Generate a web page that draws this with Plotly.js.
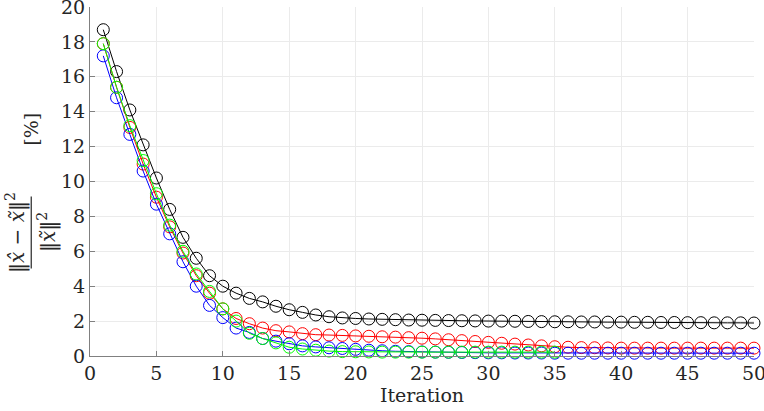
<!DOCTYPE html>
<html>
<head>
<meta charset="utf-8">
<script src="https://cdn.plot.ly/plotly-3.0.1.min.js"></script>
<style>
  body { margin: 0; background: #fff; }
  #graph { width: 764px; height: 411px; }
</style>
</head>
<body>
<div id="graph"></div>
<script>
// iteration numbers
var iters = []
for (var i = 1; i <= 50; i++) iters.push(i)
var itersGreen = iters.slice(0, 35)

var blackVals = [18.7, 16.3, 14.1, 12.1, 10.2, 8.4, 6.8, 5.6, 4.6, 4.0,
    3.6, 3.3, 3.1, 2.85, 2.65, 2.5, 2.35, 2.25, 2.18, 2.15,
    2.12, 2.1, 2.08, 2.06, 2.05, 2.04, 2.03, 2.02, 2.01, 2.0,
    2.0, 1.99, 1.98, 1.97, 1.96, 1.96, 1.95, 1.95, 1.94, 1.94,
    1.93, 1.93, 1.92, 1.92, 1.91, 1.91, 1.9, 1.9, 1.9, 1.89]

var redVals = [17.9, 15.4, 13.1, 11.0, 9.1, 7.4, 5.9, 4.6, 3.6, 2.7,
    2.15, 1.85, 1.6, 1.45, 1.38, 1.28, 1.22, 1.2, 1.18, 1.15,
    1.13, 1.1, 1.08, 1.05, 1.02, 0.98, 0.93, 0.88, 0.83, 0.78,
    0.73, 0.68, 0.63, 0.58, 0.53, 0.5, 0.48, 0.47, 0.46, 0.45,
    0.45, 0.45, 0.45, 0.45, 0.45, 0.45, 0.45, 0.45, 0.45, 0.45]

var blueVals = [17.2, 14.8, 12.7, 10.6, 8.7, 7.0, 5.4, 4.0, 2.9, 2.2,
    1.6, 1.35, 1.0, 0.85, 0.7, 0.58, 0.52, 0.47, 0.43, 0.38,
    0.33, 0.3, 0.27, 0.25, 0.23, 0.22, 0.21, 0.2, 0.19, 0.18,
    0.18, 0.17, 0.17, 0.17, 0.16, 0.16, 0.16, 0.16, 0.16, 0.16,
    0.16, 0.16, 0.16, 0.16, 0.16, 0.16, 0.16, 0.16, 0.16, 0.16]

var greenVals = [17.9, 15.4, 13.2, 11.2, 9.3, 7.5, 6.0, 4.7, 3.7, 2.7,
    2.0, 1.3, 1.0, 0.75, 0.5, 0.4, 0.33, 0.28, 0.25, 0.24,
    0.23, 0.22, 0.22, 0.22, 0.22, 0.22, 0.22, 0.22, 0.22, 0.22,
    0.22, 0.22, 0.22, 0.22, 0.22]

var xTicks = [0, 5, 10, 15, 20, 25, 30, 35, 40, 45, 50]
var yTicks = [0, 2, 4, 6, 8, 10, 12, 14, 16, 18, 20]

function series(xs, ys, color) {
    return {
        x: xs,
        y: ys,
        mode: 'lines+markers',
        type: 'scatter',
        line: {color: color, width: 1},
        marker: {symbol: 'circle-open', size: 12, color: color, line: {width: 1, color: color}},
        cliponaxis: false,
        showlegend: false
    }
}

var data = [
    series(iters, blackVals, '#000000'),
    series(iters, redVals, '#ff0000'),
    series(iters, blueVals, '#0000ff'),
    series(itersGreen, greenVals, '#00ff00')
]

var serif = "'DejaVu Serif', serif"
var txt = '#262626'

var layout = {
    width: 764,
    height: 411,
    margin: {l: 90, r: 10, t: 7, b: 55},
    paper_bgcolor: '#ffffff',
    plot_bgcolor: '#ffffff',
    font: {family: serif, size: 19, color: txt},
    xaxis: {
        range: [-0.001, 50.001],
        tickvals: xTicks,
        ticklabeloverflow: 'allow',
        showgrid: true,
        gridcolor: '#ebebeb',
        zeroline: false,
        showline: true,
        linecolor: '#808080',
        ticks: 'inside',
        ticklen: 5,
        tickcolor: '#808080',
        tickfont: {family: serif, size: 19, color: txt},
        title: {text: 'Iteration', standoff: 2, font: {family: serif, size: 19, color: txt}}
    },
    yaxis: {
        range: [-0.001, 20.001],
        tickvals: yTicks,
        ticklabeloverflow: 'allow',
        showgrid: true,
        gridcolor: '#ebebeb',
        zeroline: false,
        showline: true,
        linecolor: '#808080',
        ticks: 'inside',
        ticklen: 5,
        tickcolor: '#808080',
        tickfont: {family: serif, size: 19, color: txt}
    },
    shapes: [
        // fraction bar of the y label
        {type: 'line', xref: 'paper', yref: 'paper', x0: -0.0885, x1: -0.0885, y0: 0.251, y1: 0.457,
         line: {color: txt, width: 1.2}}
    ],
    annotations: [
        {
            xref: 'paper', yref: 'paper',
            x: -0.112, y: 0.354,
            xanchor: 'center', yanchor: 'middle',
            textangle: -90,
            showarrow: false,
            font: {family: serif, size: 20, color: txt},
            text: '‖<i>x̂</i> − <i>x̃</i>‖<sup>2</sup>'
        },
        {
            xref: 'paper', yref: 'paper',
            x: -0.064, y: 0.354,
            xanchor: 'center', yanchor: 'middle',
            textangle: -90,
            showarrow: false,
            font: {family: serif, size: 20, color: txt},
            text: '‖<i>x̃</i>‖<sup>2</sup>'
        },
        {
            xref: 'paper', yref: 'paper',
            x: -0.0885, y: 0.649,
            xanchor: 'center', yanchor: 'middle',
            textangle: -90,
            showarrow: false,
            font: {family: serif, size: 19, color: txt},
            text: '[%]'
        }
    ]
}

Plotly.newPlot('graph', data, layout, {displayModeBar: false, staticPlot: true})
</script>
</body>
</html>
